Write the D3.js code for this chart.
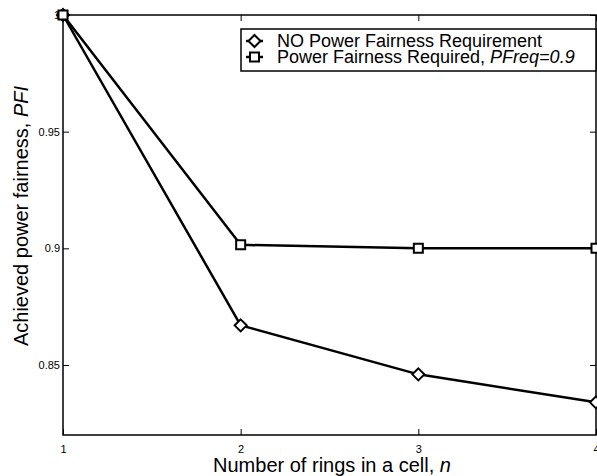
<!DOCTYPE html>
<html>
<head>
<meta charset="utf-8">
<script src="https://cdn.jsdelivr.net/npm/d3@7"></script>
<style>
body { margin: 0; background: #fff; }
text { font-family: "Liberation Sans", Arial, sans-serif; }
</style>
</head>
<body>
<div id="chart"></div>
<script>
var rings = [1, 2, 3, 4];
var noReq = [1.0, 0.867, 0.846, 0.834];
var withReq = [1.0, 0.9015, 0.9, 0.9];
var xTicks = [1, 2, 3, 4];
var yTicks = [0.85, 0.9, 0.95, 1];
var yTickLabels = ["0.85", "0.9", "0.95", "1"];
var legendLabels = ["NO Power Fairness Requirement", "Power Fairness Required, "];

var W = 597, H = 476;
var margin = {top: 15, right: 1, bottom: 41, left: 63};
var width = W - margin.left - margin.right;
var height = H - margin.top - margin.bottom;

var svg = d3.select("#chart").append("svg")
    .attr("width", W)
    .attr("height", H);

var g = svg.append("g")
    .attr("transform", "translate(" + margin.left + "," + margin.top + ")");

var x = d3.scaleLinear().domain([1, 4]).range([0, width]);
var y = d3.scaleLinear().domain([0.82, 1]).range([height, 0]);

// axes, MATLAB style: ticks inward on all four sides
var tl = 6;
g.append("g")
    .attr("transform", "translate(0," + height + ")")
    .call(d3.axisBottom(x).tickValues(xTicks).tickFormat(d3.format("d")).tickSize(-tl).tickPadding(10))
    .call(function (a) { a.select(".domain").remove(); });
g.append("g")
    .call(d3.axisTop(x).tickValues(xTicks).tickFormat("").tickSize(-tl))
    .call(function (a) { a.select(".domain").remove(); });
g.append("g")
    .call(d3.axisLeft(y).tickValues(yTicks).tickFormat(function (d, i) { return yTickLabels[i]; }).tickSize(-tl).tickPadding(3))
    .call(function (a) { a.select(".domain").remove(); });
g.append("g")
    .attr("transform", "translate(" + width + ",0)")
    .call(d3.axisRight(y).tickValues(yTicks).tickFormat("").tickSize(-tl))
    .call(function (a) { a.select(".domain").remove(); });
g.selectAll(".tick line").attr("stroke", "#000").attr("stroke-width", 1);
g.selectAll(".tick text").attr("fill", "#000").style("font-size", "11px");

g.append("rect")
    .attr("width", width).attr("height", height)
    .attr("fill", "none").attr("stroke", "#000").attr("stroke-width", 1.5);

var line = d3.line()
    .x(function (d, i) { return x(rings[i]); })
    .y(function (d) { return y(d); });

[noReq, withReq].forEach(function (s) {
    g.append("path").datum(s)
        .attr("d", line)
        .attr("fill", "none").attr("stroke", "#000").attr("stroke-width", 2.5)
        .attr("stroke-linejoin", "round");
});

var diamond = "M0,-6L6,0L0,6L-6,0Z";
var square = "M-4.5,-4.5H4.5V4.5H-4.5Z";

g.selectAll(".dm").data(noReq).enter().append("path")
    .attr("d", diamond)
    .attr("transform", function (d, i) { return "translate(" + x(rings[i]) + "," + y(d) + ")"; })
    .attr("fill", "#fff").attr("stroke", "#000").attr("stroke-width", 2);
g.selectAll(".sq").data(withReq).enter().append("path")
    .attr("d", square)
    .attr("transform", function (d, i) { return "translate(" + x(rings[i]) + "," + y(d) + ")"; })
    .attr("fill", "#fff").attr("stroke", "#000").attr("stroke-width", 2);

// legend
var leg = svg.append("g").attr("transform", "translate(241,29)");
leg.append("rect").attr("width", 355).attr("height", 42)
    .attr("fill", "#fff").attr("stroke", "#000").attr("stroke-width", 1.5);
[diamond, square].forEach(function (m, i) {
    var cy = 12 + i * 16;
    leg.append("line").attr("x1", 5).attr("x2", 22).attr("y1", cy).attr("y2", cy)
        .attr("stroke", "#000").attr("stroke-width", 2.5);
    leg.append("path").attr("d", m).attr("transform", "translate(13.5," + cy + ")")
        .attr("fill", "#fff").attr("stroke", "#000").attr("stroke-width", 2);
});
leg.append("text").attr("x", 36).attr("y", 18).style("font-size", "18px").text(legendLabels[0]);
var t2 = leg.append("text").attr("x", 36).attr("y", 34).style("font-size", "18px");
t2.append("tspan").text(legendLabels[1]);
t2.append("tspan").style("font-style", "italic").text("PFreq=0.9");

// axis titles
var xl = svg.append("text")
    .attr("x", 332).attr("y", 472)
    .attr("text-anchor", "middle").style("font-size", "20px");
xl.append("tspan").text("Number of rings in a cell, ");
xl.append("tspan").style("font-style", "italic").text("n");

var yl = svg.append("text")
    .attr("transform", "translate(28,216) rotate(-90)")
    .attr("text-anchor", "middle").style("font-size", "20px");
yl.append("tspan").text("Achieved power fairness, ");
yl.append("tspan").style("font-style", "italic").text("PFI");
</script>
</body>
</html>
